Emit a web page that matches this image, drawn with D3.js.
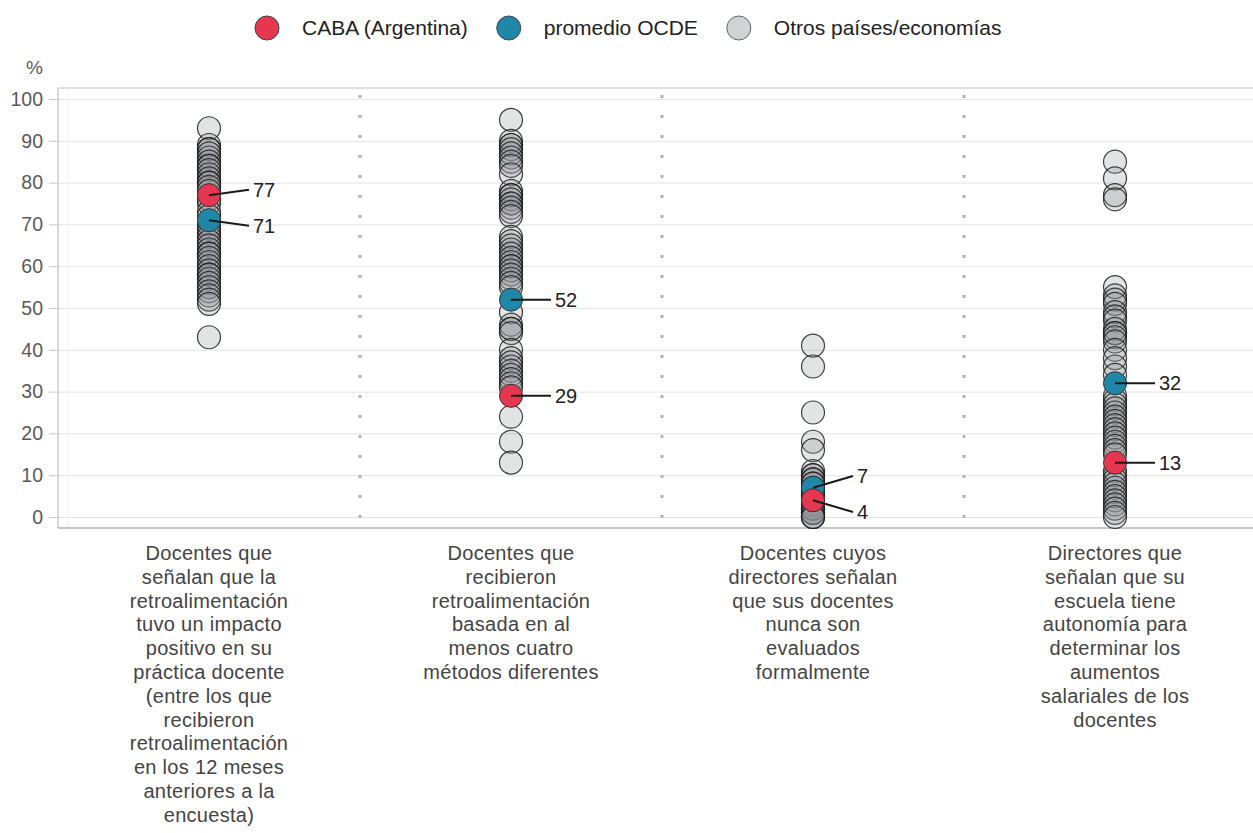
<!DOCTYPE html>
<html>
<head>
<meta charset="utf-8">
<script src="https://cdn.jsdelivr.net/npm/d3@7"></script>
<style>
    body { margin: 0; background: #fff; }
    svg { display: block; font-family: "Liberation Sans", Arial, sans-serif; }
</style>
</head>
<body>
<div id="chart"></div>
<script>
    // data
    var categorias = [
        ["Docentes que", "señalan que la", "retroalimentación", "tuvo un impacto", "positivo en su", "práctica docente", "(entre los que", "recibieron", "retroalimentación", "en los 12 meses", "anteriores a la", "encuesta)"],
        ["Docentes que", "recibieron", "retroalimentación", "basada en al", "menos cuatro", "métodos diferentes"],
        ["Docentes cuyos", "directores señalan", "que sus docentes", "nunca son", "evaluados", "formalmente"],
        ["Directores que", "señalan que su", "escuela tiene", "autonomía para", "determinar los", "aumentos", "salariales de los", "docentes"]
    ];
    var caba = [77, 29, 4, 13];
    var ocde = [71, 52, 7, 32];
    var otros1 = [93, 89, 88, 88, 87, 86, 85, 84, 84, 83, 82, 81, 80, 80, 79, 78, 76, 75, 73, 72, 70, 69, 68, 68, 67, 66, 65, 64, 63, 63, 62, 61, 60, 59, 58, 58, 57, 56, 55, 54, 53, 52, 51, 43];
    var otros2 = [95, 90, 89, 89, 88, 87, 86, 85, 84, 82, 78, 77, 77, 76, 75, 75, 74, 73, 72, 67, 66, 65, 64, 63, 62, 61, 60, 60, 59, 58, 57, 56, 55, 49, 46, 45, 45, 44, 40, 38, 37, 36, 35, 34, 33, 32, 31, 24, 18, 13];
    var otros3 = [41, 36, 25, 18, 16, 11, 10, 10, 9, 9, 8, 8, 7, 6, 6, 5, 5, 4, 3, 3, 2, 2, 2, 1, 1, 1, 0, 0, 0];
    var otros4 = [85, 81, 77, 76, 55, 53, 52, 51, 49, 48, 47, 45, 44, 44, 43, 42, 40, 38, 36, 34, 29, 28, 27, 26, 25, 24, 23, 22, 21, 20, 19, 18, 17, 16, 15, 11, 10, 9, 8, 7, 6, 5, 4, 3, 2, 1, 0];
    var otros = [otros1, otros2, otros3, otros4];
    var yTicks = [0, 10, 20, 30, 40, 50, 60, 70, 80, 90, 100];
    var leyenda = ["CABA (Argentina)", "promedio OCDE", "Otros países/economías"];

    var colRojo = "#e5374f", colAzul = "#2187a8";

    var width = 1253, height = 833;
    var margin = {top: 88, left: 58, bottom: 305};
    var plotRight = 1266;
    var r = 11.5;

    var svg = d3.select("#chart").append("svg")
            .attr("width", width)
            .attr("height", height);

    // scales
    var x = d3.scaleBand().domain(d3.range(4)).range([margin.left, plotRight]);
    var y = d3.scaleLinear().domain([-2.63, 102.63]).range([height - margin.bottom, margin.top]);
    var cx = function(i) { return x(i) + x.bandwidth() / 2; };

    // grid lines
    svg.append("g")
            .attr("class", "grid")
            .attr("transform", "translate(" + margin.left + ",0)")
            .call(d3.axisLeft(y).tickValues(yTicks).tickSize(-(plotRight - margin.left)).tickFormat(""))
            .call(function(g) { g.select(".domain").remove(); })
            .selectAll("line").attr("stroke", "#e4e4e4");

    // frame: top line and a faint inner vertical
    svg.append("line")
            .attr("x1", margin.left).attr("x2", plotRight)
            .attr("y1", margin.top).attr("y2", margin.top)
            .attr("stroke", "#d6d6d6").attr("stroke-width", 1.5);
    svg.append("line")
            .attr("x1", margin.left + 10).attr("x2", margin.left + 10)
            .attr("y1", margin.top).attr("y2", height - margin.bottom)
            .attr("stroke", "#f0f0f0");

    // y axis
    var yAxis = svg.append("g")
            .attr("transform", "translate(" + margin.left + ",0)")
            .call(d3.axisLeft(y).tickValues(yTicks).tickSize(9).tickPadding(6));
    yAxis.select(".domain").attr("stroke", "#b5b5b5").attr("d", "M0," + margin.top + "V" + (height - margin.bottom));
    yAxis.selectAll(".tick line").attr("stroke", "#c8c8c8");
    yAxis.selectAll(".tick text").attr("fill", "#5a5a5a").style("font-size", "19.5px")
            .style("font-family", "Liberation Sans, Arial, sans-serif");

    svg.append("text")
            .attr("x", 43).attr("y", 67)
            .attr("dy", "0.35em")
            .attr("text-anchor", "end")
            .attr("fill", "#5a5a5a")
            .style("font-size", "19px")
            .text("%");

    // x axis line
    svg.append("line")
            .attr("x1", margin.left).attr("x2", plotRight)
            .attr("y1", height - margin.bottom).attr("y2", height - margin.bottom)
            .attr("stroke", "#b5b5b5").attr("stroke-width", 1.5);

    // dotted dividers between the columns
    svg.append("g").selectAll("line")
            .data(d3.range(1, 4))
            .enter().append("line")
            .attr("x1", function(d) { return x(d); })
            .attr("x2", function(d) { return x(d); })
            .attr("y1", margin.top + 7)
            .attr("y2", height - margin.bottom)
            .attr("stroke", "#b3b3b3")
            .attr("stroke-width", 3)
            .attr("stroke-dasharray", "3,17");

    // category labels
    var etiquetas = svg.append("g").selectAll("text")
            .data(categorias)
            .enter().append("text")
            .attr("text-anchor", "middle")
            .attr("fill", "#444")
            .style("font-size", "20px")
            .style("letter-spacing", "0.3px");
    etiquetas.selectAll("tspan")
            .data(function(d, i) { return d.map(function(t) { return {t: t, i: i}; }); })
            .enter().append("tspan")
            .attr("x", function(d) { return cx(d.i); })
            .attr("y", function(d, j) { return 560 + j * 23.8; })
            .text(function(d) { return d.t; });

    // other countries
    var puntos = [];
    otros.forEach(function(col, i) {
        col.forEach(function(v) { puntos.push({i: i, v: v}); });
    });
    svg.append("g").selectAll("circle")
            .data(puntos)
            .enter().append("circle")
            .attr("cx", function(d) { return cx(d.i); })
            .attr("cy", function(d) { return y(d.v); })
            .attr("r", r)
            .attr("fill", "#8e9496")
            .attr("fill-opacity", 0.26)
            .attr("stroke", "#1e1e1e")
            .attr("stroke-opacity", 0.85)
            .attr("stroke-width", 1.2);

    // label positions, pushed apart when they are too close
    var etiq = [];
    caba.forEach(function(v, i) {
        var ya = y(v), yb = y(ocde[i]);
        var la = ya, lb = yb;
        if (Math.abs(ya - yb) < 36) {
            var mid = (ya + yb) / 2;
            la = ya < yb ? mid - 18 : mid + 18;
            lb = ya < yb ? mid + 18 : mid - 18;
        }
        etiq.push({i: i, v: ocde[i], ly: lb, c: colAzul});
        etiq.push({i: i, v: v, ly: la, c: colRojo});
    });

    var g = svg.append("g");
    g.selectAll("circle")
            .data(etiq)
            .enter().append("circle")
            .attr("cx", function(d) { return cx(d.i); })
            .attr("cy", function(d) { return y(d.v); })
            .attr("r", r)
            .attr("fill", function(d) { return d.c; })
            .attr("stroke", "#333")
            .attr("stroke-width", 1);
    g.selectAll("line")
            .data(etiq)
            .enter().append("line")
            .attr("x1", function(d) { return cx(d.i); })
            .attr("y1", function(d) { return y(d.v); })
            .attr("x2", function(d) { return cx(d.i) + 40; })
            .attr("y2", function(d) { return d.ly; })
            .attr("stroke", "#1a1a1a")
            .attr("stroke-width", 2);
    g.selectAll("text")
            .data(etiq)
            .enter().append("text")
            .attr("x", function(d) { return cx(d.i) + 44; })
            .attr("y", function(d) { return d.ly; })
            .attr("dy", "0.35em")
            .attr("fill", "#222")
            .style("font-size", "20px")
            .text(function(d) { return d.v; });

    // legend, laid out from the measured text widths
    var legCol = [colRojo, colAzul, "#d0d3d4"];
    var leg = svg.append("g").attr("transform", "translate(0,28)");
    var lx = 267;
    leyenda.forEach(function(t, i) {
        leg.append("circle")
                .attr("cx", lx).attr("r", 12)
                .attr("fill", legCol[i])
                .attr("stroke", i === 2 ? "#666" : "#444")
                .attr("stroke-width", 1);
        var txt = leg.append("text")
                .attr("x", lx + 35)
                .attr("dy", "0.35em")
                .attr("fill", "#222")
                .style("font-size", "21px")
                .text(t);
        lx = lx + 35 + txt.node().getComputedTextLength() + 41;
    });
</script>
</body>
</html>
